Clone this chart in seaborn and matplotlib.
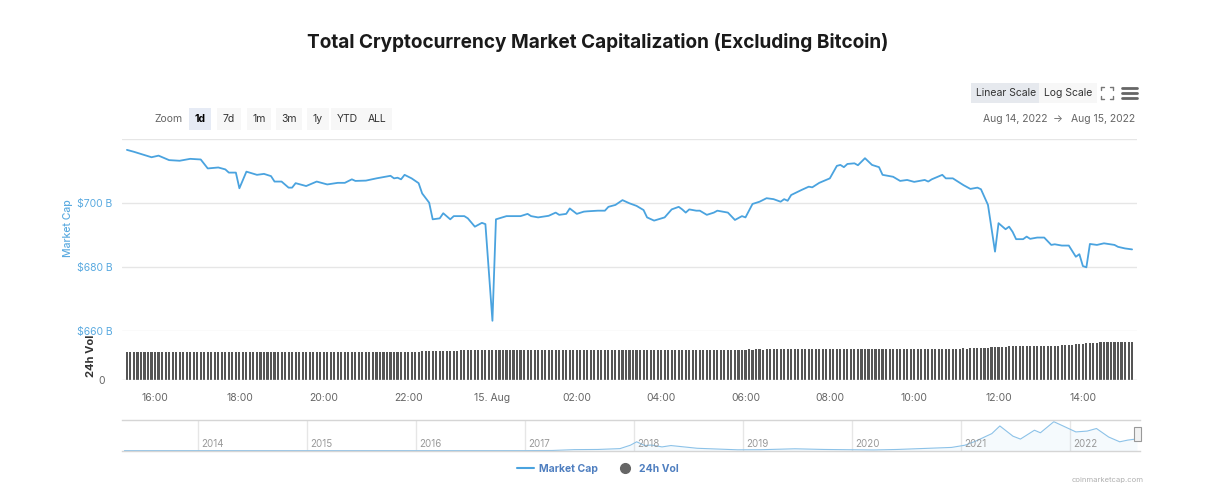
import pandas as pd
import matplotlib
matplotlib.use('Agg')
import matplotlib.pyplot as plt
from matplotlib.lines import Line2D
from matplotlib.patches import Rectangle
import seaborn as sns

# total crypto market cap excluding BTC, USD billions (Aug 14 -> Aug 15, 2022)
cap_time = [
    "2022-08-14 15:20", "2022-08-14 15:30", "2022-08-14 15:45", "2022-08-14 15:55", "2022-08-14 16:05",
    "2022-08-14 16:20", "2022-08-14 16:35", "2022-08-14 16:50", "2022-08-14 17:05", "2022-08-14 17:15",
    "2022-08-14 17:30", "2022-08-14 17:40", "2022-08-14 17:45", "2022-08-14 17:55", "2022-08-14 18:00",
    "2022-08-14 18:10", "2022-08-14 18:25", "2022-08-14 18:35", "2022-08-14 18:45", "2022-08-14 18:50",
    "2022-08-14 19:00", "2022-08-14 19:10", "2022-08-14 19:15", "2022-08-14 19:20", "2022-08-14 19:35",
    "2022-08-14 19:50", "2022-08-14 20:05", "2022-08-14 20:20", "2022-08-14 20:30", "2022-08-14 20:40",
    "2022-08-14 20:45", "2022-08-14 21:00", "2022-08-14 21:15", "2022-08-14 21:35", "2022-08-14 21:40",
    "2022-08-14 21:45", "2022-08-14 21:50", "2022-08-14 21:55", "2022-08-14 22:05", "2022-08-14 22:15",
    "2022-08-14 22:20", "2022-08-14 22:30", "2022-08-14 22:35", "2022-08-14 22:45", "2022-08-14 22:50",
    "2022-08-14 23:00", "2022-08-14 23:05", "2022-08-14 23:20", "2022-08-14 23:25", "2022-08-14 23:35",
    "2022-08-14 23:45", "2022-08-14 23:50", "2022-08-15 00:00", "2022-08-15 00:05", "2022-08-15 00:20",
    "2022-08-15 00:40", "2022-08-15 00:50", "2022-08-15 00:55", "2022-08-15 01:05", "2022-08-15 01:20",
    "2022-08-15 01:30", "2022-08-15 01:35", "2022-08-15 01:45", "2022-08-15 01:50", "2022-08-15 02:00",
    "2022-08-15 02:10", "2022-08-15 02:15", "2022-08-15 02:30", "2022-08-15 02:40", "2022-08-15 02:45",
    "2022-08-15 02:55", "2022-08-15 03:05", "2022-08-15 03:15", "2022-08-15 03:25", "2022-08-15 03:35",
    "2022-08-15 03:40", "2022-08-15 03:50", "2022-08-15 04:05", "2022-08-15 04:15", "2022-08-15 04:25",
    "2022-08-15 04:30", "2022-08-15 04:35", "2022-08-15 04:40", "2022-08-15 04:50", "2022-08-15 04:55",
    "2022-08-15 05:05", "2022-08-15 05:15", "2022-08-15 05:20", "2022-08-15 05:35", "2022-08-15 05:45",
    "2022-08-15 05:55", "2022-08-15 06:00", "2022-08-15 06:10", "2022-08-15 06:20", "2022-08-15 06:30",
    "2022-08-15 06:40", "2022-08-15 06:50", "2022-08-15 06:55", "2022-08-15 07:00", "2022-08-15 07:05",
    "2022-08-15 07:20", "2022-08-15 07:30", "2022-08-15 07:35", "2022-08-15 07:45", "2022-08-15 08:00",
    "2022-08-15 08:10", "2022-08-15 08:15", "2022-08-15 08:20", "2022-08-15 08:25", "2022-08-15 08:35",
    "2022-08-15 08:40", "2022-08-15 08:50", "2022-08-15 09:00", "2022-08-15 09:10", "2022-08-15 09:15",
    "2022-08-15 09:30", "2022-08-15 09:40", "2022-08-15 09:50", "2022-08-15 10:00", "2022-08-15 10:15",
    "2022-08-15 10:20", "2022-08-15 10:25", "2022-08-15 10:40", "2022-08-15 10:45", "2022-08-15 10:55",
    "2022-08-15 11:10", "2022-08-15 11:20", "2022-08-15 11:30", "2022-08-15 11:35", "2022-08-15 11:45",
    "2022-08-15 11:55", "2022-08-15 12:00", "2022-08-15 12:10", "2022-08-15 12:15", "2022-08-15 12:20",
    "2022-08-15 12:25", "2022-08-15 12:35", "2022-08-15 12:40", "2022-08-15 12:45", "2022-08-15 12:55",
    "2022-08-15 13:05", "2022-08-15 13:15", "2022-08-15 13:20", "2022-08-15 13:30", "2022-08-15 13:40",
    "2022-08-15 13:50", "2022-08-15 13:55", "2022-08-15 14:00", "2022-08-15 14:05", "2022-08-15 14:10",
    "2022-08-15 14:20", "2022-08-15 14:30", "2022-08-15 14:45", "2022-08-15 14:50", "2022-08-15 15:00",
    "2022-08-15 15:10",
]
cap_value = [
    716.6, 716.0, 715.0, 714.3, 714.8, 713.4, 713.2, 713.8, 713.6, 710.8,
    711.1, 710.5, 709.5, 709.5, 704.6, 709.8, 708.8, 709.1, 708.4, 706.7,
    706.7, 704.8, 704.8, 706.2, 705.3, 706.7, 705.8, 706.3, 706.3, 707.4,
    706.9, 707.0, 707.7, 708.5, 707.7, 707.9, 707.4, 708.8, 707.7, 706.2,
    703.0, 700.1, 694.9, 695.2, 696.8, 694.9, 695.9, 695.9, 695.2, 692.6,
    693.8, 693.4, 663.2, 694.9, 695.9, 695.9, 696.6, 695.9, 695.5, 696.0,
    697.0, 696.3, 696.6, 698.3, 696.6, 697.3, 697.4, 697.6, 697.6, 698.8,
    699.4, 700.9, 699.9, 699.1, 697.8, 695.5, 694.5, 695.5, 698.0, 698.8,
    698.0, 697.0, 698.0, 697.6, 697.6, 696.3, 697.0, 697.6, 697.0, 694.7,
    695.9, 695.5, 699.7, 700.4, 701.5, 701.2, 700.4, 701.2, 700.7, 702.5,
    704.1, 705.1, 704.9, 706.3, 707.7, 711.6, 711.9, 711.2, 712.2, 712.4,
    711.8, 714.0, 711.9, 711.2, 708.8, 708.2, 706.9, 707.2, 706.6, 707.2,
    706.7, 707.4, 708.8, 707.7, 707.7, 705.6, 704.4, 704.8, 704.3, 699.4,
    684.8, 693.7, 691.8, 692.6, 691.0, 688.7, 688.7, 689.5, 688.8, 689.2,
    689.2, 686.9, 687.1, 686.7, 686.7, 683.2, 684.0, 680.3, 679.9, 687.2,
    686.9, 687.4, 686.9, 686.3, 685.8, 685.5,
]

# 24h volume, 5-minute bars starting 2022-08-14 15:20 (USD billions)
vol_start = "2022-08-14 15:20"
vol_value = [
    28.3, 28.2, 28.3, 28.2, 28.2, 28.3, 28.2, 28.1,
    28.2, 28.1, 28.2, 28.2, 28.1, 28.2, 28.3, 28.2, 28.1, 28.2, 28.1, 28.2,
    28.1, 28.0, 28.1, 28.2, 28.1, 28.0, 28.1, 28.1, 28.0, 28.1, 28.2, 28.1,
    28.0, 28.1, 28.0, 27.9, 28.0, 28.1, 28.0, 27.9, 28.0, 28.0, 27.9, 28.0,
    27.9, 28.0, 27.9, 27.8, 27.9, 28.0, 27.9, 27.8, 27.9, 27.9, 27.8, 27.9,
    27.9, 27.8, 27.9, 27.9, 27.8, 27.9, 28.0, 27.9, 27.8, 27.9, 27.9, 27.8,
    27.8, 27.9, 27.8, 27.7, 27.8, 27.9, 27.8, 27.7, 27.8, 27.8, 27.9, 27.8,
    27.9, 28.0, 28.2, 28.4, 28.6, 28.8, 28.9, 29.0, 29.1, 29.2, 29.3, 29.4,
    29.4, 29.5, 29.5, 29.6, 29.6, 29.7, 29.7, 29.8, 29.8, 29.9, 29.9, 30.0,
    30.0, 30.1, 30.1, 30.0, 30.1, 30.1, 30.2, 30.1, 30.1, 30.2, 30.2, 30.1,
    30.1, 30.2, 30.2, 30.1, 30.2, 30.2, 30.3, 30.2, 30.2, 30.3, 30.2, 30.2,
    30.2, 30.3, 30.3, 30.2, 30.3, 30.3, 30.2, 30.3, 30.3, 30.2, 30.3, 30.3,
    30.3, 30.2, 30.3, 30.3, 30.4, 30.3, 30.3, 30.4, 30.3, 30.3, 30.4, 30.3,
    30.3, 30.4, 30.4, 30.3, 30.4, 30.4, 30.3, 30.4, 30.4, 30.5, 30.4, 30.4,
    30.4, 30.5, 30.4, 30.4, 30.5, 30.5, 30.4, 30.5, 30.5, 30.4, 30.5, 30.5,
    30.5, 30.6, 30.5, 30.6, 30.6, 30.5, 30.6, 30.6, 30.7, 30.6, 30.6, 30.7,
    30.7, 30.7, 30.8, 30.7, 30.8, 30.8, 30.9, 30.8, 30.9, 30.9, 31.0, 30.9,
    31.0, 31.0, 31.1, 31.1, 31.2, 31.2, 31.3, 31.2, 31.3, 31.3, 31.2, 31.3,
    31.3, 31.2, 31.3, 31.3, 31.4, 31.3, 31.3, 31.4, 31.3, 31.4, 31.4, 31.3,
    31.4, 31.4, 31.3, 31.4, 31.4, 31.5, 31.4, 31.4, 31.5, 31.4, 31.5, 31.5,
    31.5, 31.5, 31.6, 31.5, 31.6, 31.6, 31.7, 31.8, 32.0, 32.3, 32.6, 32.8,
    33.2, 33.4, 33.5, 33.6, 33.7, 33.8, 33.8, 33.9, 34.0, 34.0, 34.1, 34.2,
    34.2, 34.3, 34.3, 34.4, 34.4, 34.5, 34.6, 34.7, 34.9, 35.2, 35.6, 36.0,
    36.3, 36.6, 36.9, 37.2, 37.4, 37.6, 37.7, 37.8, 37.8, 37.9, 37.8, 37.9,
    37.9, 37.8, 37.9,
]

tick_times = ["2022-08-14 16:00", "2022-08-14 18:00", "2022-08-14 20:00", "2022-08-14 22:00",
              "2022-08-15 00:00", "2022-08-15 02:00", "2022-08-15 04:00", "2022-08-15 06:00",
              "2022-08-15 08:00", "2022-08-15 10:00", "2022-08-15 12:00", "2022-08-15 14:00"]
tick_labels = ["16:00", "18:00", "20:00", "22:00", "15. Aug", "02:00", "04:00", "06:00",
               "08:00", "10:00", "12:00", "14:00"]
cap_ticks = [660, 680, 700, 720]
cap_tick_labels = ["$660 B", "$680 B", "$700 B", ""]

# navigator: full history, USD billions
nav_date = ["2013-04-28", "2013-12-01", "2014-06-01", "2015-01-01", "2016-01-01", "2016-06-01",
            "2017-01-01", "2017-04-01", "2017-06-15", "2017-09-01", "2017-11-15", "2017-12-20",
            "2018-01-10", "2018-02-06", "2018-03-01", "2018-04-05", "2018-05-05", "2018-08-01",
            "2018-12-15", "2019-03-01", "2019-06-25", "2019-10-01", "2019-12-20", "2020-03-15",
            "2020-06-01", "2020-09-01", "2020-12-01", "2021-01-15", "2021-02-20", "2021-04-15",
            "2021-05-12", "2021-06-25", "2021-07-20", "2021-09-05", "2021-09-25", "2021-11-09",
            "2021-12-10", "2022-01-22", "2022-03-01", "2022-04-01", "2022-05-12", "2022-06-18",
            "2022-07-15", "2022-08-15"]
nav_value = [1.5, 3, 1.5, 1, 1.5, 2.5, 3, 10, 60, 70, 120, 320,
             520, 300, 330, 220, 300, 140, 50, 55, 110, 70, 55, 40,
             70, 130, 190, 320, 560, 1000, 1450, 850, 680, 1200, 1050, 1700,
             1450, 1100, 1150, 1300, 800, 520, 620, 690]
nav_years = [2014, 2015, 2016, 2017, 2018, 2019, 2020, 2021, 2022]

W, H = 1211, 486


def fx(px):
    return px / W


def fy(py):
    return 1 - py / H


sns.set_style("white")
plt.rcParams['font.family'] = ['Inter', 'DejaVu Sans']

LINE = '#4aa3df'
BLUE_TXT = '#4f7fc0'
GRID = '#e6e6e6'
GREY_TXT = '#666666'

fig = plt.figure(figsize=(W / 100, H / 100), dpi=100)

cap_t = pd.to_datetime(cap_time)
vol_t = pd.date_range(vol_start, periods=len(vol_value), freq='5min')
x0, x1 = pd.Timestamp("2022-08-14 15:13"), pd.Timestamp("2022-08-15 15:17")

# main panel
ax = fig.add_axes([fx(122), fy(331), (1137 - 122) / W, (331 - 139) / H])
sns.lineplot(x=cap_t, y=cap_value, ax=ax, color=LINE, linewidth=1.3)
ax.set_xlim(x0, x1)
ax.set_ylim(660, 720)
ax.set_yticks(cap_ticks)
ax.set_yticklabels(cap_tick_labels, color='#5aaae0', fontsize=7.5)
ax.set_xticks([])
ax.set_xlabel('')
ax.set_ylabel('')
ax.grid(axis='y', color=GRID, linewidth=1)
ax.tick_params(axis='y', length=0, pad=7)
for s in ax.spines.values():
    s.set_visible(False)
fig.text(fx(68), fy(228), 'Market Cap', rotation=90, ha='center', va='center',
         color='#5aaae0', fontsize=7.5, fontweight='medium')

# volume panel
axv = fig.add_axes([fx(122), fy(380), (1137 - 122) / W, 39 / H])
axv.bar(vol_t, vol_value, width=3.0 / 1440, color='#555555', linewidth=0)
axv.set_xlim(x0, x1)
axv.set_ylim(0, 39)
axv.set_yticks([0])
axv.set_yticklabels(['0'], color=GREY_TXT, fontsize=7.5)
axv.set_xticks(pd.to_datetime(tick_times))
axv.set_xticklabels(tick_labels, color=GREY_TXT, fontsize=7.5)
axv.tick_params(axis='x', length=6, color='#dddddd', pad=3)
axv.tick_params(axis='y', length=0, pad=12)
for s in axv.spines.values():
    s.set_visible(False)
axv.axhline(0, color='#cccccc', linewidth=1)
fig.text(fx(91), fy(356), '24h Vol', rotation=90, ha='center', va='center',
         color='#333333', fontsize=8, fontweight='bold')

# navigator
axn = fig.add_axes([fx(122), fy(451), (1140 - 122) / W, 31 / H])
nav_t = pd.to_datetime(nav_date)
sns.lineplot(x=nav_t, y=nav_value, ax=axn, color='#8cc2e8', linewidth=0.8)
axn.fill_between(nav_t, nav_value, 0, color='#8cc2e8', alpha=0.08, linewidth=0)
axn.set_xlim(pd.Timestamp("2013-04-20"), pd.Timestamp("2022-08-25"))
axn.set_ylim(-20, 1800)
axn.set_xticks([pd.Timestamp(f"{y}-01-01") for y in nav_years])
axn.set_xticklabels([])
axn.set_yticks([])
axn.set_xlabel('')
axn.set_ylabel('')
axn.tick_params(axis='x', length=0)
axn.grid(axis='x', color=GRID, linewidth=1)
for side in ['left', 'right']:
    axn.spines[side].set_visible(False)
for side in ['top', 'bottom']:
    axn.spines[side].set_color('#d5d5d5')
    axn.spines[side].set_linewidth(1)
for y in nav_years:
    axn.text(pd.Timestamp(f"{y}-01-12"), 0.24, str(y), transform=axn.get_xaxis_transform(),
             ha='left', va='center', color='#999999', fontsize=7)
fig.patches.append(Rectangle((fx(1134), fy(441)), 7 / W, 14 / H, transform=fig.transFigure,
                             facecolor='#f2f2f2', edgecolor='#999999', linewidth=0.8))

# title
fig.text(fx(598), fy(43), 'Total Cryptocurrency Market Capitalization (Excluding Bitcoin)',
         ha='center', va='center', fontsize=13.7, fontweight='bold', color='#1a1a1a')

# zoom buttons
fig.text(fx(168), fy(119), 'Zoom', ha='center', va='center', fontsize=7.5, color=GREY_TXT)
buttons = [('1d', 200), ('7d', 229), ('1m', 259), ('3m', 289), ('1y', 318), ('YTD', 347), ('ALL', 377)]
for lab, cx in buttons:
    active = lab == '1d'
    fig.text(fx(cx), fy(119), lab, ha='center', va='center', fontsize=7.5,
             color='#000000' if active else '#333333', fontweight='bold' if active else 'normal',
             bbox=dict(boxstyle='square,pad=0.55', fc='#e6ebf5' if active else '#f7f7f7', ec='none'))

# scale buttons
fig.text(fx(1006), fy(93), 'Linear Scale', ha='center', va='center', fontsize=7.5, color='#333333',
         bbox=dict(boxstyle='square,pad=0.5', fc='#e6e9ee', ec='none'))
fig.text(fx(1068), fy(93), 'Log Scale', ha='center', va='center', fontsize=7.5, color='#333333',
         bbox=dict(boxstyle='square,pad=0.5', fc='#f7f7f7', ec='none'))

# fullscreen icon
cx, cy, r, k = 1107, 93, 6, 3
for sx in (-1, 1):
    for sy in (-1, 1):
        px, py = cx + sx * r, cy + sy * r
        fig.add_artist(Line2D([fx(px - sx * k), fx(px)], [fy(py), fy(py)], color='#777777', lw=1,
                              transform=fig.transFigure))
        fig.add_artist(Line2D([fx(px), fx(px)], [fy(py), fy(py - sy * k)], color='#777777', lw=1,
                              transform=fig.transFigure))
# menu icon
for py in (88, 93, 98):
    fig.add_artist(Line2D([fx(1122), fx(1137)], [fy(py), fy(py)], color='#666666', lw=2,
                          transform=fig.transFigure))

# date range
fig.text(fx(1015), fy(119), 'Aug 14, 2022', ha='center', va='center', fontsize=7.5, color=GREY_TXT)
fig.text(fx(1058), fy(119), '→', ha='center', va='center', fontsize=7.5, color=GREY_TXT)
fig.text(fx(1103), fy(119), 'Aug 15, 2022', ha='center', va='center', fontsize=7.5, color=GREY_TXT)

# legend
handles = [Line2D([], [], color=LINE, lw=1.5),
           Line2D([], [], color='#666666', marker='o', linestyle='none', markersize=7)]
leg = fig.legend(handles, ['Market Cap', '24h Vol'], loc='center', bbox_to_anchor=(fx(598), fy(469)),
                 ncol=2, frameon=False, fontsize=7.5, handlelength=1.6, columnspacing=1.8, handletextpad=0.5)
for t in leg.get_texts():
    t.set_color(BLUE_TXT)
    t.set_fontweight('bold')

fig.text(fx(1072), fy(480), 'coinmarketcap.com', ha='left', va='center', fontsize=5.5, color='#b0b0b0')

fig.savefig('out.png', dpi=100)
plt.close(fig)
